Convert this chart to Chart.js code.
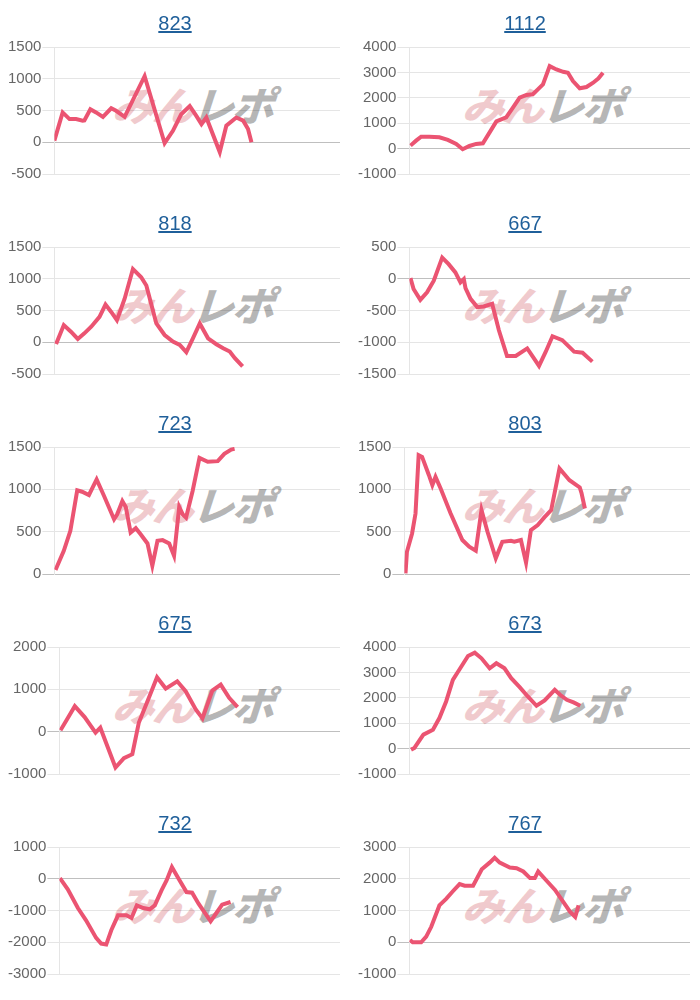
<!DOCTYPE html>
<html>
<head>
<meta charset="utf-8">
<script src="https://cdn.jsdelivr.net/npm/chart.js@4.4.0/dist/chart.umd.min.js"></script>
<style>
  body { margin: 0; background: #fff; font-family: "Liberation Sans", Arial, sans-serif; }
  #grid { width: 700px; display: flex; flex-wrap: wrap; }
  .cell { position: relative; width: 350px; height: 200px; }
  .cell a { position: absolute; top: 10px; left: 0; width: 100%; text-align: center;
    font-size: 20px; line-height: 26px; color: #1f5f9a; text-decoration: underline; z-index: 3; }
  .wm { position: absolute; left: 117px; top: 80px; font-family: "Noto Sans CJK JP", sans-serif;
    font-size: 40px; font-weight: 900; line-height: 48px; transform: skewX(-18deg) scaleX(1.05); transform-origin: left center;
    z-index: 1; letter-spacing: -2px; white-space: nowrap; }
  .wm .p { color: rgba(226, 150, 156, 0.5); }
  .wm .g { color: rgba(150, 150, 150, 0.7); }
  .cell canvas { position: absolute; left: 0; top: 0; z-index: 2; }
</style>
</head>
<body>
<div id="grid"></div>
<script>
// machine numbers (chart titles)
const titles = ['823', '1112', '818', '667', '723', '803', '675', '673', '732', '767'];

// y axis ranges per chart
const yMin  = [-500, -1000, -500, -1500, 0, 0, -1000, -1000, -3000, -1000];
const yMax  = [1500, 4000, 1500, 500, 1500, 1500, 2000, 4000, 1000, 3000];
const yStep = [500, 1000, 500, 500, 500, 500, 1000, 1000, 1000, 1000];

// progress along the day (0-100) and coin difference
const x823 = [0, 2.9, 5.3, 7.6, 9.9, 10.5, 12.6, 14.6, 17, 19.9, 21.6, 24.6, 31.6, 38.6, 41.5, 44.4, 47.4, 49.7, 51.5, 53.2, 57.9, 60.2, 63.7, 66.1, 67.8, 69];
const y823 = [25, 470, 365, 365, 340, 345, 520, 470, 400, 535, 495, 400, 1040, -15, 180, 440, 570, 415, 285, 390, -155, 260, 390, 340, 210, 0];

const x1112 = [0.4, 2.4, 4.2, 7.1, 10.7, 13.7, 16.7, 19, 21.4, 23.8, 26.2, 28.6, 31, 34.5, 36.9, 39.3, 41.7, 44, 45.8, 47.6, 50, 52.4, 54.8, 56.5, 58.3, 60.7, 63.1, 65.5, 67.4, 69];
const y1112 = [117, 313, 470, 470, 443, 340, 183, -26, 104, 183, 209, 640, 1070, 1226, 1617, 2008, 2113, 2139, 2334, 2530, 3247, 3117, 3025, 2986, 2660, 2373, 2425, 2595, 2765, 2986];

const x818 = [0.6, 3.3, 5.8, 8.2, 10.5, 12.9, 15.8, 17.9, 19.9, 21.9, 24.6, 27.5, 30.4, 32.2, 35.7, 38.6, 41.5, 43.9, 46.2, 48.5, 50.9, 53.8, 56.7, 59.1, 61.4, 63.2, 65.9];
const y818 = [-26, 270, 166, 52, 140, 244, 400, 593, 478, 348, 686, 1154, 1024, 894, 296, 114, 10, -42, -156, 62, 296, 62, -31, -94, -146, -250, -380];

const x667 = [0.4, 1.5, 3.9, 6.3, 8.7, 11.7, 14, 16.4, 18.2, 19.4, 20, 21.8, 24.2, 26.5, 29.5, 31.9, 34.8, 37.9, 42, 44.4, 46.2, 48.6, 51, 54.5, 58.7, 61.7, 65.2];
const y667 = [10, -161, -333, -213, -31, 333, 229, 99, -57, -5, -146, -317, -447, -437, -395, -811, -1217, -1217, -1097, -1253, -1373, -1149, -905, -967, -1149, -1165, -1305];

const x723 = [0.4, 3.3, 5.6, 8, 9.7, 12.1, 14.8, 17.4, 20.9, 22, 23.8, 25, 26.7, 28.5, 30.2, 32.6, 34.3, 36.1, 37.9, 40.2, 41.9, 43.7, 44.9, 46.1, 48.4, 50.8, 53.7, 57.2, 59.5, 61.9, 63.1];
const y723 = [47, 274, 510, 988, 972, 933, 1117, 921, 647, 706, 862, 792, 490, 541, 470, 361, 98, 392, 400, 361, 216, 792, 706, 666, 980, 1372, 1325, 1333, 1419, 1470, 1478];

const x803 = [0.4, 0.9, 2.7, 3.9, 5, 6.2, 8.6, 9.8, 10.9, 12.7, 16.2, 20.3, 22.7, 25, 27, 29.1, 32, 34.3, 37.3, 38.5, 40.8, 42.6, 44.3, 46.7, 49, 51.4, 54.3, 57.8, 61.4, 62, 63.2];
const y803 = [8, 263, 479, 715, 1403, 1383, 1167, 1049, 1147, 1010, 715, 401, 322, 275, 755, 499, 185, 381, 393, 381, 401, 134, 519, 578, 668, 755, 1246, 1108, 1022, 959, 774];

const x675 = [0.4, 2.7, 5.5, 9, 12.9, 14.6, 16.4, 20, 23, 26, 28.3, 31.9, 34.8, 37.9, 42, 45, 48.6, 51, 54.5, 57.5, 60.5, 63.5];
const y675 = [31, 290, 603, 345, -23, 94, -219, -846, -626, -532, 211, 799, 1284, 1018, 1190, 955, 525, 313, 971, 1112, 799, 579];

const x673 = [0.6, 1.8, 5, 8.4, 10.7, 13.1, 15.5, 17.9, 20.9, 23.3, 25.7, 28.6, 31, 33.9, 36.3, 39.3, 42.2, 45.3, 48.2, 51.8, 53.7, 56.1, 58.5, 60.9];
const y673 = [-39, 26, 549, 745, 1202, 1856, 2706, 3124, 3647, 3777, 3555, 3163, 3359, 3163, 2771, 2418, 2052, 1686, 1895, 2313, 2117, 1921, 1817, 1686];

const x732 = [0.2, 3, 6.6, 9.5, 13.1, 14.9, 16.7, 18.5, 20.9, 23.9, 25.7, 27.6, 29.9, 32.2, 34, 36.4, 38.2, 40.1, 42.5, 45.3, 47.3, 49.6, 53.9, 56.2, 58, 61];
const y732 = [21, -335, -921, -1309, -1864, -2042, -2073, -1623, -1152, -1152, -1235, -838, -921, -963, -838, -366, -52, 366, 0, -419, -440, -785, -1340, -1047, -817, -733];

const x767 = [0.2, 1.2, 4.2, 6, 7.8, 10.7, 13.1, 15.5, 17.9, 19.7, 22.7, 25.8, 28.6, 30.4, 32.2, 35.8, 38.2, 40.6, 43, 44.7, 45.9, 48.9, 51.9, 54.9, 57.3, 59.1, 60.3];
const y767 = [73, 0, 0, 176, 487, 1160, 1368, 1606, 1834, 1782, 1782, 2300, 2507, 2663, 2507, 2352, 2331, 2228, 2020, 2020, 2228, 1937, 1647, 1264, 953, 798, 1160];

const xs = [x823, x1112, x818, x667, x723, x803, x675, x673, x732, x767];
const ys = [y823, y1112, y818, y667, y723, y803, y675, y673, y732, y767];

const grid = document.getElementById('grid');

titles.forEach((t, i) => {
  const cell = document.createElement('div');
  cell.className = 'cell';
  cell.innerHTML = '<a href="#">' + t + '</a>' +
    '<div class="wm"><span class="p">みん</span><span class="g">レポ</span></div>' +
    '<canvas width="350" height="200"></canvas>';
  grid.appendChild(cell);

  new Chart(cell.querySelector('canvas'), {
    type: 'line',
    data: {
      datasets: [{
        data: xs[i].map((x, k) => ({ x: x, y: ys[i][k] })),
        borderColor: '#eb5472',
        borderWidth: 4,
        pointRadius: 0,
        fill: false,
        tension: 0
      }]
    },
    options: {
      responsive: false,
      animation: false,
      layout: { padding: { top: 47, bottom: 26, left: 7, right: 10 } },
      plugins: { legend: { display: false }, tooltip: { enabled: false } },
      scales: {
        x: { type: 'linear', min: 0, max: 100, display: false },
        y: {
          min: yMin[i],
          max: yMax[i],
          ticks: {
            stepSize: yStep[i],
            color: '#666',
            padding: 1,
            callback: v => String(v),
            font: { family: '"Liberation Sans", Arial, sans-serif', size: 15 }
          },
          grid: {
            tickLength: 12,
            color: ctx => (ctx.tick && ctx.tick.value === 0) ? 'rgba(0,0,0,0.25)' : 'rgba(0,0,0,0.1)'
          },
          border: { color: 'rgba(0,0,0,0.1)' }
        }
      }
    }
  });
});
</script>
</body>
</html>
